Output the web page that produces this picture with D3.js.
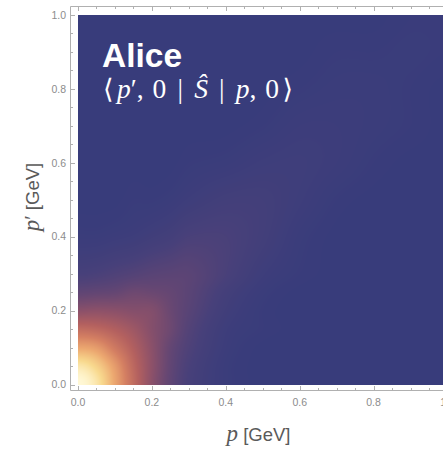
<!DOCTYPE html>
<html>
<head>
<meta charset="utf-8">
<script src="https://cdn.jsdelivr.net/npm/d3@7"></script>
<style>
  html, body { margin: 0; padding: 0; background: #fff; }
  svg { display: block; }
</style>
</head>
<body>
<svg id="chart" width="443" height="451"></svg>
<script>
// Momentum knots (GeV) shared by both axes of the amplitude grid.
const P_KNOTS = [0, 0.05, 0.1, 0.15, 0.2, 0.25, 0.3, 0.4, 0.5, 0.6, 0.7, 0.8, 0.9, 1.0];

// |<p',0|S|p,0>| normalised to its peak; rows follow p', columns follow p.
const AMPLITUDE = [
  [1.00, 0.94, 0.77, 0.56, 0.35, 0.20, 0.10, 0.02, 0.00, 0.00, 0.00, 0.00, 0.00, 0.00],
  [0.94, 0.88, 0.74, 0.54, 0.36, 0.21, 0.11, 0.02, 0.00, 0.00, 0.00, 0.00, 0.00, 0.00],
  [0.77, 0.74, 0.62, 0.49, 0.35, 0.22, 0.13, 0.03, 0.00, 0.00, 0.00, 0.00, 0.00, 0.00],
  [0.56, 0.54, 0.49, 0.42, 0.33, 0.25, 0.15, 0.04, 0.01, 0.00, 0.00, 0.00, 0.00, 0.00],
  [0.35, 0.36, 0.35, 0.33, 0.32, 0.24, 0.17, 0.06, 0.01, 0.00, 0.00, 0.00, 0.00, 0.00],
  [0.20, 0.21, 0.22, 0.25, 0.24, 0.22, 0.18, 0.08, 0.02, 0.00, 0.00, 0.00, 0.00, 0.00],
  [0.10, 0.11, 0.13, 0.15, 0.17, 0.18, 0.18, 0.11, 0.04, 0.01, 0.00, 0.00, 0.00, 0.00],
  [0.02, 0.02, 0.03, 0.04, 0.06, 0.08, 0.11, 0.11, 0.07, 0.02, 0.00, 0.00, 0.00, 0.00],
  [0.00, 0.00, 0.00, 0.01, 0.01, 0.02, 0.04, 0.07, 0.07, 0.04, 0.01, 0.00, 0.00, 0.00],
  [0.00, 0.00, 0.00, 0.00, 0.00, 0.00, 0.01, 0.02, 0.04, 0.045, 0.03, 0.01, 0.00, 0.00],
  [0.00, 0.00, 0.00, 0.00, 0.00, 0.00, 0.00, 0.00, 0.01, 0.03, 0.03, 0.02, 0.01, 0.00],
  [0.00, 0.00, 0.00, 0.00, 0.00, 0.00, 0.00, 0.00, 0.00, 0.01, 0.02, 0.02, 0.01, 0.00],
  [0.00, 0.00, 0.00, 0.00, 0.00, 0.00, 0.00, 0.00, 0.00, 0.00, 0.01, 0.01, 0.015, 0.01],
  [0.00, 0.00, 0.00, 0.00, 0.00, 0.00, 0.00, 0.00, 0.00, 0.00, 0.00, 0.00, 0.01, 0.01]
];

// Axis ticks (GeV).
const MAJOR_TICKS = [0, 0.2, 0.4, 0.6, 0.8, 1.0];
const MINOR_TICKS = [0.05, 0.1, 0.15, 0.25, 0.3, 0.35, 0.45, 0.5, 0.55, 0.65, 0.7, 0.75, 0.85, 0.9, 0.95];

// Density gradient: dark blue -> purple -> red -> orange -> pale yellow.
const COLOR_STOPS  = [0.00, 0.10, 0.22, 0.36, 0.50, 0.65, 0.78, 0.90, 1.00];
const COLOR_VALUES = ["#383c7b", "#47407a", "#644673", "#8d5169", "#b3605f", "#d47f62", "#eca870", "#f8d98e", "#fff8d6"];

const svg = d3.select("#chart");

const x = d3.scaleLinear().domain([0, 1]).range([78, 447.5]);
const y = d3.scaleLinear().domain([0, 1]).range([384.5, 15]);
const color = d3.scaleLinear().domain(COLOR_STOPS).range(COLOR_VALUES)
  .interpolate(d3.interpolateRgb).clamp(true);

// Smooth (C1 cubic Hermite) interpolation through the grid knots.
function slopes(xs, ys) {
  const n = xs.length, m = new Array(n);
  m[0] = 0; m[n - 1] = 0;
  for (let k = 1; k < n - 1; k++) m[k] = (ys[k + 1] - ys[k - 1]) / (xs[k + 1] - xs[k - 1]);
  return m;
}
function hermite(xs, ys, ms, t) {
  const k = Math.min(Math.max(d3.bisectRight(xs, t) - 1, 0), xs.length - 2);
  const h = xs[k + 1] - xs[k], s = (t - xs[k]) / h;
  const s2 = s * s, s3 = s2 * s;
  return (2 * s3 - 3 * s2 + 1) * ys[k] + (s3 - 2 * s2 + s) * h * ms[k]
       + (-2 * s3 + 3 * s2) * ys[k + 1] + (s3 - s2) * h * ms[k + 1];
}

// Rasterise the density field.
const x0 = x(0), y1 = y(1);
const W = Math.round(x(1) - x0), H = Math.round(y(0) - y1);
const canvas = document.createElement("canvas");
canvas.width = W; canvas.height = H;
const ctx = canvas.getContext("2d");
const img = ctx.createImageData(W, H);
const rowSlopes = AMPLITUDE.map(row => slopes(P_KNOTS, row));
for (let i = 0; i < W; i++) {
  const p = x.invert(x0 + i + 0.5);
  const col = AMPLITUDE.map((row, k) => hermite(P_KNOTS, row, rowSlopes[k], p));
  const colSlopes = slopes(P_KNOTS, col);
  for (let j = 0; j < H; j++) {
    const pp = y.invert(y1 + j + 0.5);
    const v = Math.max(0, Math.min(1, hermite(P_KNOTS, col, colSlopes, pp)));
    const c = d3.rgb(color(v));
    const o = (j * W + i) * 4;
    img.data[o] = c.r; img.data[o + 1] = c.g; img.data[o + 2] = c.b; img.data[o + 3] = 255;
  }
}
ctx.putImageData(img, 0, 0);

svg.append("image")
  .attr("x", x0).attr("y", y1)
  .attr("width", W).attr("height", H)
  .attr("preserveAspectRatio", "none")
  .attr("href", canvas.toDataURL());

// Frame with inward ticks.
const frame = { left: 70.5, top: 6.5, bottom: 390.5, right: 456.5 };
const g = svg.append("g").attr("stroke", "#b0b0b0").attr("stroke-width", 1).attr("fill", "none");
g.append("path").attr("d",
  `M${frame.right},${frame.top}H${frame.left}V${frame.bottom}H${frame.right}`);

const snap = v => Math.round(v) + 0.5;
[[MAJOR_TICKS, 4.5], [MINOR_TICKS, 2.5]].forEach(([ticks, len]) => {
  g.selectAll(null).data(ticks).enter().append("line")
    .attr("x1", d => snap(x(d))).attr("x2", d => snap(x(d)))
    .attr("y1", frame.bottom).attr("y2", frame.bottom - len);
  g.selectAll(null).data(ticks).enter().append("line")
    .attr("x1", d => snap(x(d))).attr("x2", d => snap(x(d)))
    .attr("y1", frame.top).attr("y2", frame.top + len);
  g.selectAll(null).data(ticks).enter().append("line")
    .attr("y1", d => snap(y(d))).attr("y2", d => snap(y(d)))
    .attr("x1", frame.left).attr("x2", frame.left + len);
});

const fmt = d3.format(".1f");
const sans = "'Liberation Sans', Arial, sans-serif";
svg.append("g").selectAll("text").data(MAJOR_TICKS).enter().append("text")
  .attr("x", d => x(d)).attr("y", 406)
  .attr("text-anchor", "middle")
  .attr("font-family", sans).attr("font-size", 10.5).attr("fill", "#8c8c8c")
  .text(fmt);
svg.append("g").selectAll("text").data(MAJOR_TICKS).enter().append("text")
  .attr("x", 66).attr("y", d => y(d)).attr("dy", "0.36em")
  .attr("text-anchor", "end")
  .attr("font-family", sans).attr("font-size", 10.5).attr("fill", "#8c8c8c")
  .text(fmt);

// Axis titles
const serif = "'Liberation Serif', 'Times New Roman', serif";
const xl = svg.append("text").attr("x", 258.5).attr("y", 441).attr("text-anchor", "middle")
  .attr("fill", "#5a5a5a").attr("font-family", sans).attr("font-size", 18.5);
xl.append("tspan").attr("font-family", serif).attr("font-style", "italic").attr("font-size", 23).text("p");
xl.append("tspan").text(" [GeV]");

const yl = svg.append("text").attr("transform", "translate(39,197) rotate(-90)")
  .attr("text-anchor", "middle")
  .attr("fill", "#5a5a5a").attr("font-family", sans).attr("font-size", 18.5);
yl.append("tspan").attr("font-family", serif).attr("font-style", "italic").attr("font-size", 23).text("p");
yl.append("tspan").attr("font-family", serif).attr("font-size", 20).text("\u2032");
yl.append("tspan").text(" [GeV]");

// Panel annotation
svg.append("text").attr("x", 102).attr("y", 67)
  .attr("font-family", sans).attr("font-weight", "bold").attr("font-size", 33.5)
  .attr("fill", "#ffffff").text("Alice");

// Matrix element <p',0|S|p,0>: tokens with relative gap weights before each one.
const tokens = [
  { t: "\u27E8", gap: 0, bracket: true },
  { t: "p", gap: 0.3, it: true },
  { t: "\u2032", gap: 0 },
  { t: ",", gap: 0 },
  { t: "0", gap: 0.8 },
  { t: "|", gap: 1 },
  { t: "\u015C", gap: 1, it: true },
  { t: "|", gap: 1 },
  { t: "p", gap: 1, it: true },
  { t: ",", gap: 0 },
  { t: "0", gap: 0.8 },
  { t: "\u27E9", gap: 0.3, bracket: true }
];
const m = svg.append("text").attr("x", 103).attr("y", 97.5)
  .attr("font-family", serif).attr("font-size", 27.5).attr("fill", "#ffffff");
const spans = tokens.map(d => {
  const s = m.append("tspan").text(d.t);
  if (d.it) s.attr("font-style", "italic");
  if (d.bracket) s.attr("font-family", "'DejaVu Serif', serif").attr("font-size", 27);
  return s;
});
const natural = d3.sum(spans, s => s.node().getComputedTextLength());
const unit = Math.max(0, (190 - natural) / d3.sum(tokens, d => d.gap));
spans.forEach((s, i) => s.attr("dx", tokens[i].gap * unit));
</script>
</body>
</html>
